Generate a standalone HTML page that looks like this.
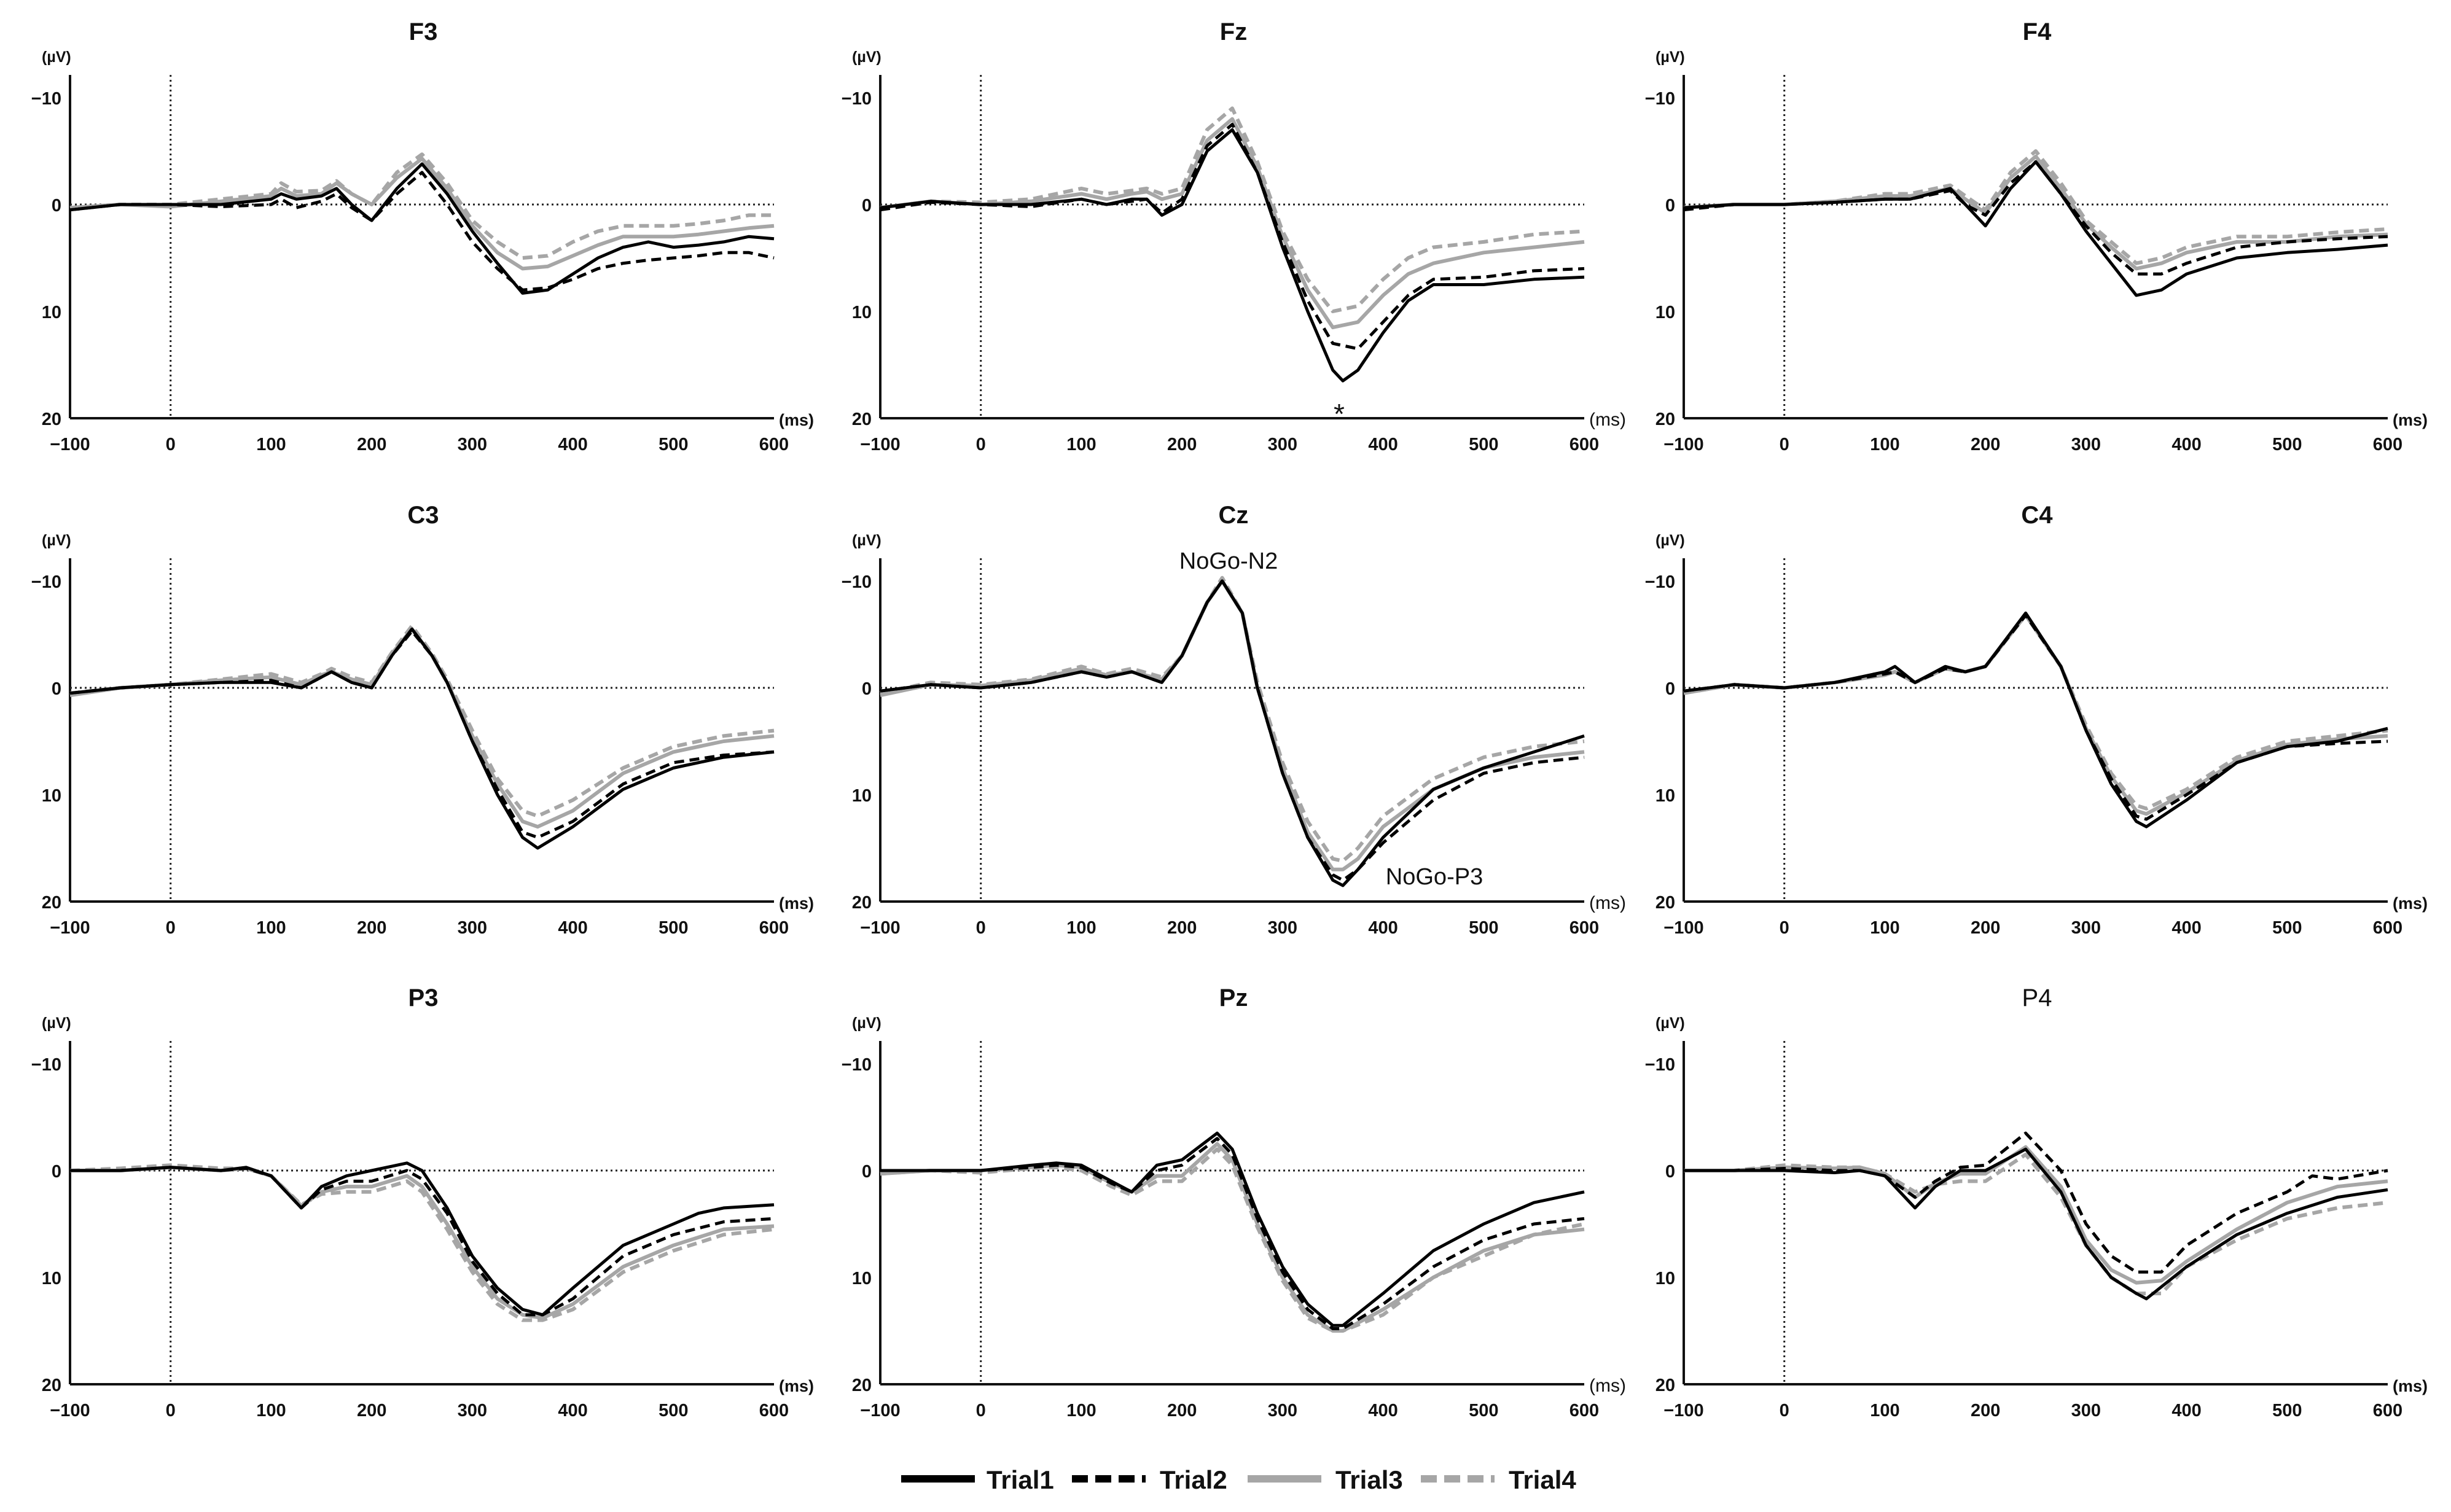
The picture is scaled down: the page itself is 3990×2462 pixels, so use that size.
<!DOCTYPE html>
<html><head><meta charset="utf-8"><style>
html,body{margin:0;padding:0;background:#fff}
svg{display:block}
text{font-family:"Liberation Sans",sans-serif}
</style></head><body>
<svg id="fig" width="3990" height="2462" viewBox="0 0 3990 2462" xmlns="http://www.w3.org/2000/svg"></svg>
<script>
const NS="http://www.w3.org/2000/svg";
const panelNames=["F3","Fz","F4","C3","Cz","C4","P3","Pz","P4"];
const yTicks=[-10,0,10,20];
const xTicks=[-100,0,100,200,300,400,500,600];
const seriesNames=["Trial1","Trial2","Trial3","Trial4"];
// data: [time(ms), amplitude(µV)], positive plotted downward
const F3_1=[[-100,0.5],[-50,0],[0,0],[50,0],[100,-0.5],[110,-1],[125,-0.5],[150,-0.8],[165,-1.5],[180,0],[200,1.5],[225,-1.5],[250,-3.8],[275,-1],[300,2.5],[325,5.5],[350,8.3],[375,8],[400,6.5],[425,5],[450,4],[475,3.5],[500,4],[525,3.8],[550,3.5],[575,3],[600,3.2]];
const F3_2=[[-100,0.5],[-50,0],[0,0],[50,0.2],[100,0],[110,-0.5],[125,0.3],[150,-0.3],[165,-1],[180,0.3],[200,1.5],[225,-1],[250,-3],[275,0],[300,3.5],[325,6],[350,8],[375,7.8],[400,7],[425,6],[450,5.5],[475,5.2],[500,5],[525,4.8],[550,4.5],[575,4.5],[600,5]];
const F3_3=[[-100,0.3],[-50,0],[0,0.2],[50,-0.3],[100,-0.8],[110,-1.5],[125,-0.8],[150,-1],[165,-2],[180,-1],[200,0],[225,-2.5],[250,-4.3],[275,-1.5],[300,2],[325,4.5],[350,6],[375,5.8],[400,4.8],[425,3.8],[450,3],[475,3],[500,3],[525,2.8],[550,2.5],[575,2.2],[600,2]];
const F3_4=[[-100,0.3],[-50,0],[0,0],[50,-0.5],[100,-1],[110,-2],[125,-1.2],[150,-1.3],[165,-2.2],[180,-1],[200,0],[225,-3],[250,-4.7],[275,-2],[300,1.5],[325,3.5],[350,5],[375,4.8],[400,3.5],[425,2.5],[450,2],[475,2],[500,2],[525,1.8],[550,1.5],[575,1],[600,1]];
const Fz_1=[[-100,0.3],[-50,-0.3],[0,0],[50,0],[100,-0.5],[125,0],[150,-0.5],[165,-0.5],[180,1],[200,0],[225,-5],[250,-7],[275,-3],[300,4],[325,10],[350,15.5],[360,16.5],[375,15.5],[400,12],[425,9],[450,7.5],[500,7.5],[550,7],[600,6.8]];
const Fz_2=[[-100,0.5],[-50,-0.2],[0,0],[50,0.2],[100,-0.5],[125,0],[150,-0.3],[165,-0.5],[180,0.8],[200,-0.5],[225,-5.5],[250,-7.5],[275,-3],[300,3.5],[325,9],[350,13],[375,13.5],[400,11],[425,8.5],[450,7],[500,6.8],[550,6.2],[600,6]];
const Fz_3=[[-100,0.3],[-50,-0.3],[0,0],[50,-0.3],[100,-1],[125,-0.5],[150,-1],[165,-1.2],[180,-0.5],[200,-1],[225,-6],[250,-8],[275,-3.5],[300,3],[325,8],[350,11.5],[375,11],[400,8.5],[425,6.5],[450,5.5],[500,4.5],[550,4],[600,3.5]];
const Fz_4=[[-100,0.3],[-50,-0.3],[0,-0.2],[50,-0.5],[100,-1.5],[125,-1],[150,-1.3],[165,-1.5],[180,-1],[200,-1.5],[225,-7],[250,-9],[275,-4],[300,2.5],[325,7],[350,10],[375,9.5],[400,7],[425,5],[450,4],[500,3.5],[550,2.8],[600,2.5]];
const F4_1=[[-100,0.3],[-50,0],[0,0],[50,-0.2],[100,-0.5],[125,-0.5],[165,-1.5],[180,0],[200,2],[225,-1.5],[250,-4],[275,-1],[300,2.5],[325,5.5],[350,8.5],[375,8],[400,6.5],[450,5],[500,4.5],[550,4.2],[600,3.8]];
const F4_2=[[-100,0.5],[-50,0],[0,0],[50,-0.2],[100,-0.5],[125,-0.5],[165,-1.3],[180,0],[200,1],[225,-2],[250,-4],[275,-1],[300,2],[325,4.5],[350,6.5],[375,6.5],[400,5.5],[450,4],[500,3.5],[550,3.2],[600,3]];
const F4_3=[[-100,0.3],[-50,0],[0,0],[50,-0.3],[100,-0.8],[125,-0.8],[165,-1.5],[180,-0.5],[200,0.8],[225,-2.5],[250,-4.5],[275,-1.5],[300,1.8],[325,4],[350,6],[375,5.5],[400,4.5],[450,3.5],[500,3.5],[550,3],[600,2.8]];
const F4_4=[[-100,0.3],[-50,0],[0,0],[50,-0.3],[100,-1],[125,-1],[165,-1.8],[180,-0.8],[200,0.5],[225,-3],[250,-5],[275,-2],[300,1.5],[325,3.5],[350,5.5],[375,5],[400,4],[450,3],[500,3],[550,2.6],[600,2.3]];
const C3_1=[[-100,0.5],[-50,0],[0,-0.3],[50,-0.5],[100,-0.5],[130,0],[150,-1],[160,-1.5],[180,-0.5],[200,0],[220,-3],[240,-5.5],[260,-3],[275,-0.5],[300,5],[325,10],[350,14],[365,15],[400,13],[450,9.5],[500,7.5],[550,6.5],[600,6]];
const C3_2=[[-100,0.5],[-50,0],[0,-0.3],[50,-0.5],[100,-0.7],[130,0],[150,-1],[160,-1.5],[180,-0.5],[200,0],[220,-3],[240,-5.3],[260,-3],[275,-0.5],[300,5],[325,9.5],[350,13.5],[365,14],[400,12.5],[450,9],[500,7],[550,6.3],[600,6]];
const C3_3=[[-100,0.7],[-50,0],[0,-0.3],[50,-0.7],[100,-1],[130,-0.3],[150,-1.2],[160,-1.5],[180,-0.8],[200,-0.3],[220,-3.2],[240,-5.5],[260,-3],[275,-0.5],[300,4.5],[325,9],[350,12.5],[365,13],[400,11.5],[450,8],[500,6],[550,5],[600,4.5]];
const C3_4=[[-100,0.5],[-50,0],[0,-0.3],[50,-0.8],[100,-1.3],[130,-0.5],[150,-1.3],[160,-1.8],[180,-1],[200,-0.5],[220,-3.3],[240,-5.8],[260,-3.2],[275,-0.8],[300,4],[325,8.5],[350,11.5],[365,12],[400,10.5],[450,7.5],[500,5.5],[550,4.5],[600,4]];
const Cz_1=[[-100,0.3],[-50,-0.3],[0,0],[50,-0.5],[100,-1.5],[125,-1],[150,-1.5],[180,-0.5],[200,-3],[225,-8],[240,-10],[260,-7],[275,0],[300,8],[325,14],[350,18],[360,18.5],[375,17],[400,14],[450,9.5],[500,7.5],[550,6],[600,4.5]];
const Cz_2=[[-100,0.3],[-50,-0.3],[0,0],[50,-0.5],[100,-1.5],[125,-1],[150,-1.5],[180,-0.5],[200,-3],[225,-8],[240,-10],[260,-7],[275,0],[300,8],[325,14],[350,17.5],[360,18],[375,17],[400,14.5],[450,10.5],[500,8],[550,7],[600,6.5]];
const Cz_3=[[-100,0.7],[-50,-0.3],[0,-0.2],[50,-0.7],[100,-1.8],[125,-1.2],[150,-1.5],[180,-0.8],[200,-3],[225,-8],[240,-10],[260,-7],[275,0],[300,7.5],[325,13.5],[350,17],[360,17],[375,16],[400,13],[450,9.5],[500,7.5],[550,6.5],[600,6]];
const Cz_4=[[-100,0.5],[-50,-0.5],[0,-0.3],[50,-0.8],[100,-2],[125,-1.3],[150,-1.8],[180,-1],[200,-3],[225,-8],[240,-10.3],[260,-7],[275,-0.5],[300,7],[325,12.5],[350,16],[360,16.2],[375,15],[400,12],[450,8.5],[500,6.5],[550,5.5],[600,5]];
const C4_1=[[-100,0.3],[-50,-0.3],[0,0],[50,-0.5],[100,-1.5],[110,-2],[130,-0.5],[160,-2],[180,-1.5],[200,-2],[240,-7],[275,-2],[300,4],[325,9],[350,12.5],[360,13],[400,10.5],[450,7],[500,5.5],[550,5],[600,3.8]];
const C4_2=[[-100,0.3],[-50,-0.3],[0,0],[50,-0.5],[100,-1.3],[110,-1.5],[130,-0.5],[160,-1.8],[180,-1.5],[200,-2],[240,-6.8],[275,-2],[300,4],[325,8.5],[350,12],[360,12.3],[400,10],[450,7],[500,5.5],[550,5.2],[600,5]];
const C4_3=[[-100,0.5],[-50,-0.3],[0,0],[50,-0.5],[100,-1.2],[110,-1.5],[130,-0.5],[160,-1.8],[180,-1.5],[200,-2],[240,-6.8],[275,-2],[300,3.8],[325,8.3],[350,11.5],[360,11.8],[400,9.8],[450,6.8],[500,5.3],[550,4.8],[600,4.5]];
const C4_4=[[-100,0.5],[-50,-0.3],[0,0],[50,-0.5],[100,-1.2],[110,-1.5],[130,-0.5],[160,-1.8],[180,-1.5],[200,-2],[240,-6.8],[275,-2],[300,3.5],[325,8],[350,11],[360,11.3],[400,9.5],[450,6.5],[500,5],[550,4.5],[600,4]];
const P3_1=[[-100,0],[-50,0],[0,-0.3],[50,0],[75,-0.3],[100,0.5],[130,3.5],[150,1.5],[175,0.5],[200,0],[235,-0.7],[250,0],[275,3.5],[300,8],[325,11],[350,13],[370,13.5],[400,11],[450,7],[500,5],[525,4],[550,3.5],[600,3.2]];
const P3_2=[[-100,0],[-50,0],[0,-0.3],[50,0],[75,-0.2],[100,0.5],[130,3.5],[150,1.8],[175,1],[200,1],[235,0],[250,0.8],[275,4],[300,8.5],[325,11.5],[350,13.5],[370,13.5],[400,12],[450,8],[500,6],[550,4.8],[600,4.5]];
const P3_3=[[-100,0],[-50,0],[0,-0.3],[50,0],[75,-0.2],[100,0.5],[130,3.3],[150,2],[175,1.5],[200,1.5],[235,0.5],[250,1.5],[275,5],[300,9],[325,12],[350,13.5],[370,13.8],[400,12.5],[450,9],[500,7],[550,5.5],[600,5.2]];
const P3_4=[[-100,0],[-50,-0.2],[0,-0.5],[50,-0.2],[75,-0.2],[100,0.5],[130,3.2],[150,2.2],[175,2],[200,2],[235,1],[250,2],[275,5.5],[300,9.5],[325,12.5],[350,14],[370,14],[400,13],[450,9.5],[500,7.5],[550,6],[600,5.5]];
const Pz_1=[[-100,0],[-50,0],[0,0],[50,-0.5],[75,-0.7],[100,-0.5],[130,1],[150,2],[175,-0.5],[200,-1],[235,-3.5],[250,-2],[275,4],[300,9],[325,12.5],[350,14.5],[360,14.5],[400,11.5],[450,7.5],[500,5],[550,3],[600,2]];
const Pz_2=[[-100,0],[-50,0],[0,0],[50,-0.3],[75,-0.5],[100,-0.3],[130,1.2],[150,2],[175,0],[200,-0.5],[235,-3],[250,-1.5],[275,4.5],[300,9.5],[325,13],[350,14.8],[360,14.8],[400,12.5],[450,9],[500,6.5],[550,5],[600,4.5]];
const Pz_3=[[-100,0.3],[-50,0],[0,0],[50,-0.3],[75,-0.5],[100,-0.3],[130,1.2],[150,2],[175,0.5],[200,0.5],[235,-2.5],[250,-1],[275,5],[300,10],[325,13.5],[350,15],[360,15],[400,13],[450,10],[500,7.5],[550,6],[600,5.5]];
const Pz_4=[[-100,0.3],[-50,0],[0,0.2],[50,-0.2],[75,-0.3],[100,0],[130,1.5],[150,2.3],[175,1],[200,1],[235,-2],[250,-0.5],[275,5.3],[300,10.3],[325,13.8],[350,15],[360,15],[400,13.5],[450,10],[500,8],[550,6],[600,5]];
const P4_1=[[-100,0],[-50,0],[0,0],[50,0.2],[75,0],[100,0.5],[130,3.5],[150,1.5],[175,0],[200,0],[240,-2],[275,2],[300,7],[325,10],[350,11.5],[360,12],[400,9],[450,6],[500,4],[550,2.5],[600,1.8]];
const P4_2=[[-100,0],[-50,0],[0,-0.2],[50,0],[75,0],[100,0.5],[130,2.5],[150,1],[175,-0.3],[200,-0.5],[240,-3.5],[275,0],[300,5],[325,8],[350,9.5],[375,9.5],[400,7],[450,4],[500,2],[525,0.5],[550,0.8],[600,0]];
const P4_3=[[-100,0],[-50,0],[0,-0.3],[50,-0.2],[75,-0.3],[100,0.3],[130,2.5],[150,1.2],[175,0.3],[200,0.3],[240,-2.2],[275,1.5],[300,6.5],[325,9.3],[350,10.5],[375,10.3],[400,8.5],[450,5.5],[500,3],[550,1.5],[600,1]];
const P4_4=[[-100,0],[-50,0],[0,-0.5],[50,-0.3],[75,-0.3],[100,0.3],[130,2],[150,1.3],[175,1],[200,1],[240,-1.5],[275,2.5],[300,7],[325,10],[350,11.5],[375,11.5],[400,9],[450,6.5],[500,4.5],[550,3.5],[600,3]];
const panelData=[[F3_1,F3_2,F3_3,F3_4],[Fz_1,Fz_2,Fz_3,Fz_4],[F4_1,F4_2,F4_3,F4_4],[C3_1,C3_2,C3_3,C3_4],[Cz_1,Cz_2,Cz_3,Cz_4],[C4_1,C4_2,C4_3,C4_4],[P3_1,P3_2,P3_3,P3_4],[Pz_1,Pz_2,Pz_3,Pz_4],[P4_1,P4_2,P4_3,P4_4]];

const svg=document.getElementById('fig');
function mk(tag,attrs,parent,txt){const e=document.createElementNS(NS,tag);for(const k in attrs)e.setAttribute(k,attrs[k]);if(txt!==undefined)e.textContent=txt;(parent||svg).appendChild(e);return e;}
const colX=[114,1433,2741], rowZero=[333,1120,1906];
const PW=1146, PPU=17.4; // px per µV
const styles=[{c:"#000",d:"",w:5},{c:"#000",d:"16 9",w:5},{c:"#a6a6a6",d:"",w:6},{c:"#a6a6a6",d:"16 9",w:6}];
const serifMs=[1,4,7];
panelNames.forEach((name,i)=>{
  const x0=colX[i%3], y0=rowZero[Math.floor(i/3)];
  const xs=t=>x0+(t+100)/700*PW;
  const ys=v=>y0+v*PPU;
  const g=mk('g',{});
  
  
  const title=mk('text',{x:xs(250)+2,y:y0-268,'text-anchor':'middle','font-size':40,'font-weight':name==="P4"?'normal':'bold',fill:'#111'},g,name);
  
  
  const u=mk('text',{x:x0-46,y:y0-232,'font-size':25,'font-weight':'bold',fill:'#111'},g,'(µV)');
  
  
  yTicks.forEach(v=>{const t=mk('text',{x:x0-14,y:ys(v)+11,'text-anchor':'end','font-size':29,'font-weight':'bold',fill:'#111'},g,String(v).replace('-','−'));
    
    });
  xTicks.forEach(v=>{const t=mk('text',{x:xs(v),y:ys(20)+52,'text-anchor':'middle','font-size':29,'font-weight':'bold',fill:'#111'},g,String(v).replace('-','−'));
    
    });
  const ms=mk('text',{x:xs(600)+8,y:ys(20)+12,'font-size':serifMs.includes(i)?30:27,'font-weight':serifMs.includes(i)?'normal':'bold','font-family':serifMs.includes(i)?'Liberation Serif, serif':'Liberation Sans, sans-serif',fill:'#111'},g,'(ms)');
  
  
  const ya=mk('line',{x1:x0,y1:y0-211,x2:x0,y2:ys(20),stroke:'#111','stroke-width':4},g);
  
  
  const xa=mk('line',{x1:x0,y1:ys(20),x2:xs(600),y2:ys(20),stroke:'#111','stroke-width':4},g);
  
  
  const zl=mk('line',{x1:xs(-100),y1:y0,x2:xs(600),y2:y0,stroke:'#222','stroke-width':3,'stroke-dasharray':'3 5'},g);
  
  
  const ol=mk('line',{x1:xs(0),y1:y0-211,x2:xs(0),y2:ys(20),stroke:'#222','stroke-width':3,'stroke-dasharray':'3 5'},g);
  
  
  [3,2,1,0].forEach(k=>{
    const pts=panelData[i][k].map(p=>xs(p[0]).toFixed(1)+','+ys(p[1]).toFixed(1)).join(' ');
    const s=styles[k];
    const pl=mk('polyline',{points:pts,fill:'none',stroke:s.c,'stroke-width':s.w,'stroke-dasharray':s.d,'stroke-linejoin':'round','stroke-linecap':'butt'},g);
    
    
  });
});
const a1=mk('text',{x:2000,y:926,'text-anchor':'middle','font-size':38,'font-family':'Liberation Serif, serif',fill:'#111'},svg,'NoGo-N2');


const a2=mk('text',{x:2335,y:1440,'text-anchor':'middle','font-size':38,'font-family':'Liberation Serif, serif',fill:'#111'},svg,'NoGo-P3');


const a3=mk('text',{x:2180,y:690,'text-anchor':'middle','font-size':46,'font-family':'Liberation Serif, serif',fill:'#111'},svg,'*');


// legend
const lg=mk('g',{});


const legX=[1467,1745,2031,2313], legTX=[1606,1888,2174,2456];
seriesNames.forEach((n,k)=>{
  const s=styles[k];
  const l=mk('line',{x1:legX[k],y1:2408,x2:legX[k]+120,y2:2408,stroke:s.c,'stroke-width':12,'stroke-dasharray':s.d?'26 12':''},lg);
  
  
  const t=mk('text',{x:legTX[k],y:2424,'font-size':42,'font-weight':'bold',fill:'#111'},lg,n);
  
  
});
</script>
</body></html>
